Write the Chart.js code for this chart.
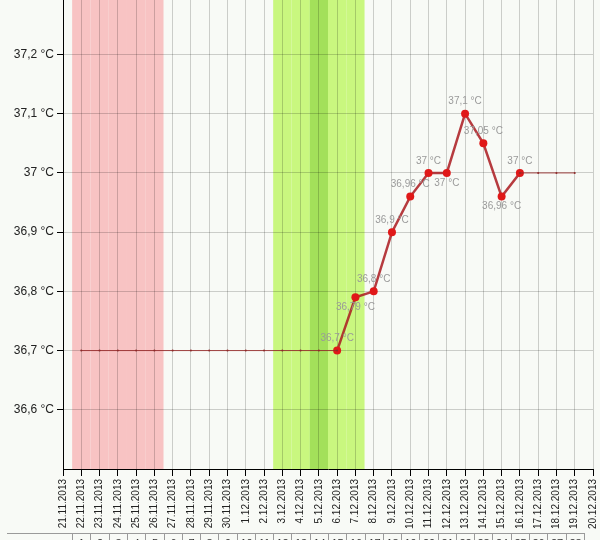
<!DOCTYPE html>
<html>
<head>
<meta charset="utf-8">
<script src="https://cdn.jsdelivr.net/npm/chart.js@4/dist/chart.umd.min.js"></script>
<style>
  html, body { margin: 0; padding: 0; background: #f8faf6; overflow: hidden; }
  #wrap { width: 600px; height: 540px; }
</style>
</head>
<body>
<div id="wrap"><canvas id="tempChart" width="600" height="540"></canvas></div>
<script>
// dates on the x axis
var dates = [
    '21.11.2013', '22.11.2013', '23.11.2013', '24.11.2013', '25.11.2013',
    '26.11.2013', '27.11.2013', '28.11.2013', '29.11.2013', '30.11.2013',
    '1.12.2013', '2.12.2013', '3.12.2013', '4.12.2013', '5.12.2013',
    '6.12.2013', '7.12.2013', '8.12.2013', '9.12.2013', '10.12.2013',
    '11.12.2013', '12.12.2013', '13.12.2013', '14.12.2013', '15.12.2013',
    '16.12.2013', '17.12.2013', '18.12.2013', '19.12.2013', '20.12.2013'
];

// measured temperatures (°C)
var temps = [
    null, null, null, null, null, null, null, null, null, null,
    null, null, null, null, null,
    36.7, 36.79, 36.8, 36.9, 36.96, 37, 37, 37.1, 37.05, 36.96, 37,
    null, null, null, null
];

// thin carried-over line where nothing was measured
var guide = [
    null, 36.7, 36.7, 36.7, 36.7, 36.7, 36.7, 36.7, 36.7, 36.7,
    36.7, 36.7, 36.7, 36.7, 36.7, 36.7,
    null, null, null, null, null, null, null, null, null,
    37, 37, 37, 37, null
];

// cycle day numbers shown in the row under the chart
var cycleDays = [
    null, 1, 2, 3, 4, 5, 6, 7, 8, 9, 10, 11, 12, 13, 14, 15, 16, 17, 18, 19,
    20, 21, 22, 23, 24, 25, 26, 27, 28, null
];

// shaded periods
var periodDays = ['22.11.2013', '23.11.2013', '24.11.2013', '25.11.2013', '26.11.2013'];
var fertileDays = ['3.12.2013', '4.12.2013', '5.12.2013', '6.12.2013', '7.12.2013'];
var ovulationDays = ['5.12.2013'];

// value labels that go under the point instead of above it
var labelsBelow = ['7.12.2013', '12.12.2013', '15.12.2013'];

var fontFamily = '"Liberation Sans", Arial, sans-serif';

function fmt(v) {
    return String(parseFloat(v.toFixed(2))).replace('.', ',') + ' °C';
}

// background colour + shaded day bands (under the grid)
var bandsPlugin = {
    id: 'bands',
    beforeDraw: function(chart) {
        var ctx = chart.ctx, x = chart.scales.x, a = chart.chartArea;
        ctx.save();
        ctx.fillStyle = '#f8faf6';
        ctx.fillRect(0, 0, chart.width, chart.height);
        function band(days, color) {
            ctx.fillStyle = color;
            days.forEach(function(d) {
                var i = dates.indexOf(d);
                var x0 = x.getPixelForValue(i - 0.5);
                var x1 = x.getPixelForValue(i + 0.5);
                ctx.fillRect(x0, a.top, x1 - x0, a.bottom - a.top);
            });
        }
        band(periodDays, '#f8c3c3');
        band(fertileDays, '#c9f77f');
        band(ovulationDays, '#a3e05a');
        ctx.restore();
    }
};

// value labels next to the measured points
var valueLabelPlugin = {
    id: 'valueLabels',
    afterDatasetsDraw: function(chart) {
        var ctx = chart.ctx;
        var meta = chart.getDatasetMeta(1);
        ctx.save();
        ctx.font = '10px ' + fontFamily;
        ctx.fillStyle = '#9a9a9a';
        ctx.textAlign = 'center';
        ctx.textBaseline = 'middle';
        temps.forEach(function(v, i) {
            if (v === null) return;
            var p = meta.data[i];
            var below = labelsBelow.indexOf(dates[i]) !== -1;
            ctx.fillText(fmt(v), p.x, below ? p.y + 10 : p.y - 12);
        });
        ctx.restore();
    }
};

// cycle day row under the axis labels
var cycleRowPlugin = {
    id: 'cycleRow',
    afterDraw: function(chart) {
        var ctx = chart.ctx, x = chart.scales.x;
        var top = 533;
        var last = null;
        ctx.save();
        ctx.strokeStyle = '#9a9a9a';
        ctx.lineWidth = 1;
        ctx.font = '11px ' + fontFamily;
        ctx.fillStyle = '#333';
        ctx.textAlign = 'center';
        ctx.textBaseline = 'top';
        cycleDays.forEach(function(n, i) {
            if (n === null) return;
            var x0 = Math.round(x.getPixelForValue(i - 0.5)) + 0.5;
            var x1 = Math.round(x.getPixelForValue(i + 0.5)) + 0.5;
            last = x1;
            ctx.beginPath();
            ctx.moveTo(x0, top);
            ctx.lineTo(x0, chart.height);
            ctx.stroke();
            ctx.fillText(String(n), (x0 + x1) / 2, top + 5);
        });
        ctx.beginPath();
        ctx.moveTo(last, top);
        ctx.lineTo(last, chart.height);
        ctx.moveTo(7, top + 0.5);
        ctx.lineTo(last, top + 0.5);
        ctx.stroke();
        ctx.restore();
    }
};

var ctx = document.getElementById('tempChart').getContext('2d');
new Chart(ctx, {
    type: 'line',
    data: {
        labels: dates,
        datasets: [
            {
                label: 'guide',
                data: guide,
                borderColor: 'rgba(150, 40, 40, 0.85)',
                borderWidth: 1,
                pointRadius: 1,
                pointBackgroundColor: '#8e2a2a',
                pointBorderWidth: 0,
                spanGaps: false,
                tension: 0
            },
            {
                label: 'temperature',
                data: temps,
                borderColor: 'rgba(170, 25, 30, 0.85)',
                borderWidth: 2.5,
                pointRadius: 4,
                pointBackgroundColor: '#e01818',
                pointBorderColor: '#e01818',
                pointBorderWidth: 0,
                spanGaps: false,
                tension: 0
            }
        ]
    },
    options: {
        responsive: false,
        animation: false,
        layout: { autoPadding: false, padding: 0 },
        plugins: {
            legend: { display: false },
            tooltip: { enabled: false }
        },
        scales: {
            x: {
                type: 'category',
                offset: false,
                grid: {
                    color: 'rgba(0, 0, 0, 0.18)',
                    tickColor: '#000',
                    tickLength: 7
                },
                border: { color: '#000', width: 1 },
                ticks: {
                    autoSkip: false,
                    maxRotation: 90,
                    minRotation: 90,
                    padding: 3,
                    color: '#222',
                    font: { family: fontFamily, size: 10 }
                },
                afterFit: function(scale) {
                    scale.height = 71;
                    scale.paddingLeft = 0;
                    scale.paddingRight = 7;
                }
            },
            y: {
                min: 36.5,
                max: 37.292,
                grid: {
                    color: 'rgba(0, 0, 0, 0.18)',
                    tickColor: '#000',
                    tickLength: 6
                },
                border: { color: '#000', width: 1 },
                ticks: {
                    stepSize: 0.1,
                    padding: 3,
                    color: '#222',
                    font: { family: fontFamily, size: 12 },
                    callback: function(v) { return fmt(v); }
                },
                afterBuildTicks: function(scale) {
                    scale.ticks = scale.ticks.filter(function(t) {
                        return t.value > 36.55 && t.value < 37.25;
                    });
                },
                afterFit: function(scale) {
                    scale.width = 63;
                    scale.paddingTop = 0;
                    scale.paddingBottom = 0;
                }
            }
        }
    },
    plugins: [bandsPlugin, valueLabelPlugin, cycleRowPlugin]
});
</script>
</body>
</html>
